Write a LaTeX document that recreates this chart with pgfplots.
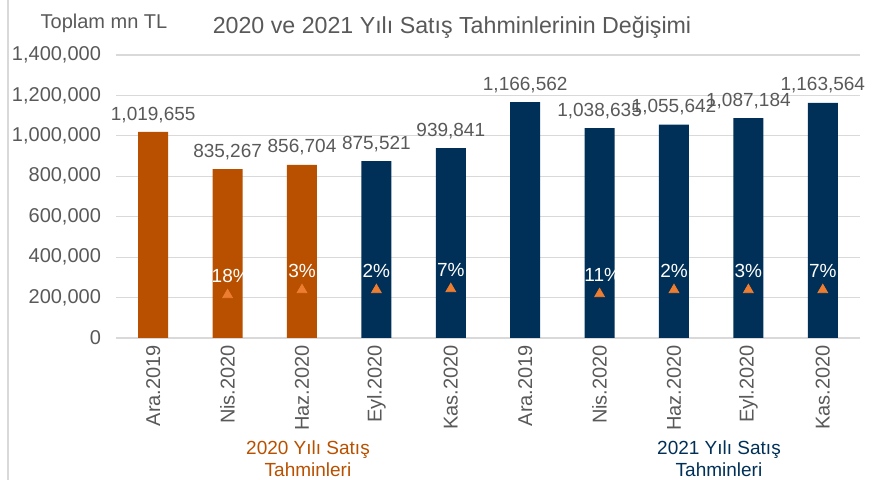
\documentclass[border=0pt]{standalone}
\usepackage{pgfplots}
\pgfplotsset{compat=1.18}
\usepackage{fontspec}
\setmainfont{Liberation Sans}
\definecolor{orng}{RGB}{184,80,0}
\definecolor{navy}{RGB}{0,48,87}
\definecolor{tri}{RGB}{237,125,49}
\definecolor{txt}{RGB}{89,89,89}
\definecolor{grd}{RGB}{217,217,217}
\begin{document}
\begin{tikzpicture}[x=1pt,y=1pt]
\path[use as bounding box] (0,0) rectangle (442.5,240);
\draw[grd, line width=0.6pt] (4,0) -- (4,240);
\begin{axis}[
  at={(58pt,71pt)}, anchor=south west,
  scale only axis, width=372pt, height=141.5pt,
  xmin=-0.5, xmax=9.5, ymin=0, ymax=1400000,
  ytick distance=200000, scaled y ticks=false,
  ymajorgrids, grid style={grd, line width=0.6pt},
  axis x line*=bottom, x axis line style={grd, line width=0.8pt},
  axis y line*=left, y axis line style={draw=none},
  tick style={draw=none},
  xtick={0,...,9},
  xticklabels={Ara.2019,Nis.2020,Haz.2020,Eyl.2020,Kas.2020,Ara.2019,Nis.2020,Haz.2020,Eyl.2020,Kas.2020},
  x tick label style={rotate=90, anchor=east, font=\fontsize{10}{11}\selectfont, text=txt},
  y tick label style={font=\fontsize{10}{11}\selectfont, text=txt, xshift=-4pt},
  /pgf/number format/.cd, fixed, precision=0, 1000 sep={,}, assume math mode=true,
]
\addplot[ybar, bar width=15pt, bar shift=0pt, fill=orng, draw=none,
  nodes near coords, nodes near coords style={font=\fontsize{9.5}{11}\selectfont, text=txt, inner sep=2pt, yshift=2.5pt}]
  coordinates {(0,1019655) (1,835267) (2,856704)};
\addplot[ybar, bar width=15pt, bar shift=0pt, fill=navy, draw=none,
  nodes near coords, nodes near coords style={font=\fontsize{9.5}{11}\selectfont, text=txt, inner sep=2pt, yshift=2.5pt}]
  coordinates {(3,875521) (4,939841) (5,1166562) (6,1038635) (7,1055642) (8,1087184) (9,1163564)};
\addplot[only marks, mark=triangle*, mark size=2.8pt, color=tri,
  point meta=explicit symbolic, nodes near coords,
  nodes near coords style={font=\fontsize{9.5}{11}\selectfont, text=white, anchor=south, yshift=5pt, inner sep=1pt}]
  coordinates {(1,213000) [\mbox{-}18\%] (2,238000) [3\%] (3,238000) [2\%] (4,243000) [7\%]
               (6,218000) [\mbox{-}11\%] (7,238000) [2\%] (8,238000) [3\%] (9,238000) [7\%]};
\end{axis}
\node[text=txt, font=\fontsize{11.6}{13}\selectfont] at (226,226.5) {2020 ve 2021 Yılı Satış Tahminlerinin Değişimi};
\node[text=txt, font=\fontsize{10}{12}\selectfont] at (52,228.5) {Toplam mn TL};
\node[text=orng, align=center, font=\fontsize{9.5}{11}\selectfont] at (154,10.5) {2020 Yılı Satış\\Tahminleri};
\node[text=navy, align=center, font=\fontsize{9.5}{11}\selectfont] at (359.5,10.5) {2021 Yılı Satış\\Tahminleri};
\end{tikzpicture}
\end{document}
